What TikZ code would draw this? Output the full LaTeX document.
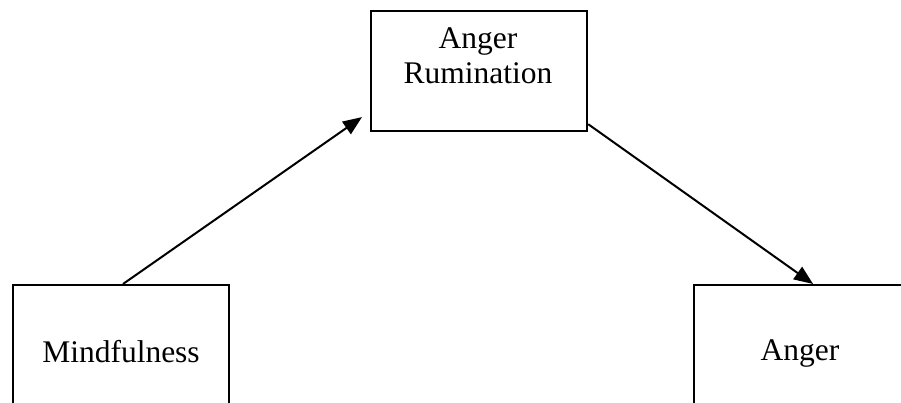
\documentclass[tikz,border=0pt]{standalone}
\usepackage{fontspec}
\setmainfont{Liberation Serif}
\usetikzlibrary{arrows.meta}
\begin{document}
\begin{tikzpicture}[x=1pt,y=-1pt,
  box/.style={draw=black, line width=2.2pt, rectangle, inner sep=0pt},
  lbl/.style={inner sep=0pt, font=\fontsize{31.5}{35}\selectfont, align=center},
  conn/.style={draw=black, line width=2pt, -{Triangle[length=19pt,width=15pt]}}]
\useasboundingbox (0,0) rectangle (901,403);
\clip (0,0) rectangle (901,403);
% boxes
\node[box, minimum width=216pt, minimum height=132pt, anchor=north] (m) at (121,284) {};
\node[box, minimum width=216pt, minimum height=120pt, anchor=north west] (r) at (370,10) {};
\node[box, minimum width=214pt, minimum height=139pt, anchor=north west] (a) at (693,284) {};
% labels
\node[lbl, anchor=base] (mt) at (121,362) {Mindfulness};
\node[lbl, anchor=base] (rt) at (478,84) {Anger\\Rumination};
\node[lbl, anchor=base] (at) at (800,360) {Anger};
% connectors
\draw[conn] ([xshift=2pt]m.north) -- ([xshift=-8pt,yshift=-46pt]r.west);
\draw[conn] ([yshift=8pt]r.south east) -- ([xshift=12pt]a.north);
\end{tikzpicture}
\end{document}
